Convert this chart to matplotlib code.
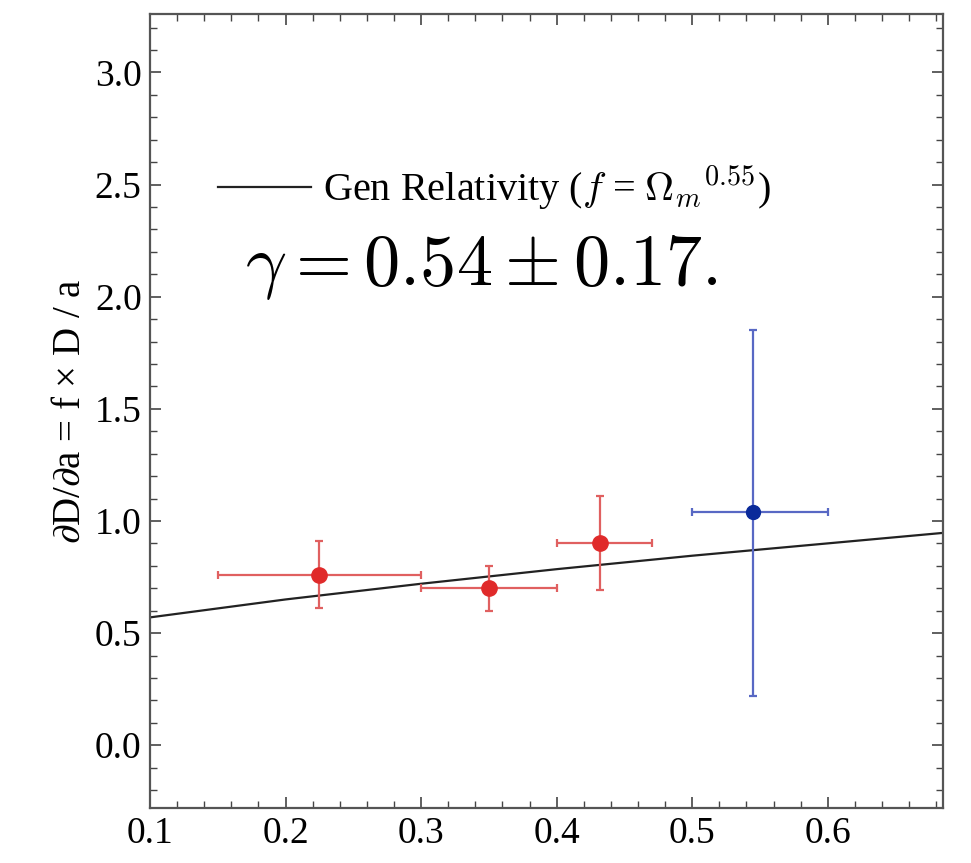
import matplotlib.pyplot as plt
from matplotlib.ticker import MultipleLocator

# 測定点（赤: 3点, 青: 1点）
red_x = [0.225, 0.35, 0.432]
red_y = [0.76, 0.70, 0.90]
red_xlo = [0.15, 0.30, 0.40]
red_xhi = [0.30, 0.40, 0.47]
red_ylo = [0.61, 0.60, 0.69]
red_yhi = [0.91, 0.80, 1.11]

blue_x = [0.545]
blue_y = [1.04]
blue_xlo = [0.50]
blue_xhi = [0.60]
blue_ylo = [0.22]
blue_yhi = [1.85]

# 一般相対論の曲線
gr_x = [0.1, 0.2, 0.3, 0.4, 0.5, 0.6, 0.7]
gr_y = [0.57, 0.65, 0.72, 0.785, 0.845, 0.90, 0.955]

x_ticks = [0.1, 0.2, 0.3, 0.4, 0.5, 0.6]
y_ticks = [0.0, 0.5, 1.0, 1.5, 2.0, 2.5, 3.0]

plt.rcParams['font.family'] = ['Liberation Serif', 'DejaVu Serif']
plt.rcParams['mathtext.fontset'] = 'cm'

fig = plt.figure(figsize=(9.71, 8.63), dpi=100)
ax = fig.add_axes([0.1545, 0.0637, 0.8167, 0.920])

ax.plot(gr_x, gr_y, color='#222222', lw=1.6,
        label=r'Gen Relativity ($f$ = $\Omega_m$$^{0.55}$)')


def err(v, lo, hi):
    return [[a - b for a, b in zip(v, lo)], [c - a for a, c in zip(v, hi)]]


ax.errorbar(red_x, red_y, xerr=err(red_x, red_xlo, red_xhi),
            yerr=err(red_y, red_ylo, red_yhi), fmt='o', color='#e02a2a',
            ecolor='#e06060', elinewidth=1.6, capsize=3, capthick=1.6,
            markersize=11, zorder=3)
ax.errorbar(blue_x, blue_y, xerr=err(blue_x, blue_xlo, blue_xhi),
            yerr=err(blue_y, blue_ylo, blue_yhi), fmt='o', color='#0a2a9a',
            ecolor='#5868c4', elinewidth=1.6, capsize=3, capthick=1.6,
            markersize=10, zorder=3)

ax.text(0.17, 2.13, r'$\gamma = 0.54 \pm 0.17.$', fontsize=52,
        ha='left', va='center')

ax.legend(loc='center left', bbox_to_anchor=(0.086, 0.781), frameon=False,
          fontsize=29, handlelength=2.3, handletextpad=0.3,
          borderpad=0, borderaxespad=0)

ax.set_xlim(0.1, 0.685)
ax.set_ylim(-0.28, 3.26)
ax.set_xticks(x_ticks)
ax.set_yticks(y_ticks)
ax.set_xticklabels([f'{t:.1f}' for t in x_ticks])
ax.set_yticklabels([f'{t:.1f}' for t in y_ticks])
ax.xaxis.set_minor_locator(MultipleLocator(0.02))
ax.yaxis.set_minor_locator(MultipleLocator(0.1))
ax.tick_params(which='both', direction='in', top=True, right=True,
               labelsize=27, color='#444444')
ax.tick_params(which='major', length=8, width=1.2, pad=6)
ax.tick_params(which='minor', length=5, width=1.0)
for s in ax.spines.values():
    s.set_color('#555555')
    s.set_linewidth(1.6)

ax.set_ylabel(r'$\partial$D/$\partial$a = f × D / a', fontsize=28, labelpad=4)

fig.savefig('out.png', dpi=100)
